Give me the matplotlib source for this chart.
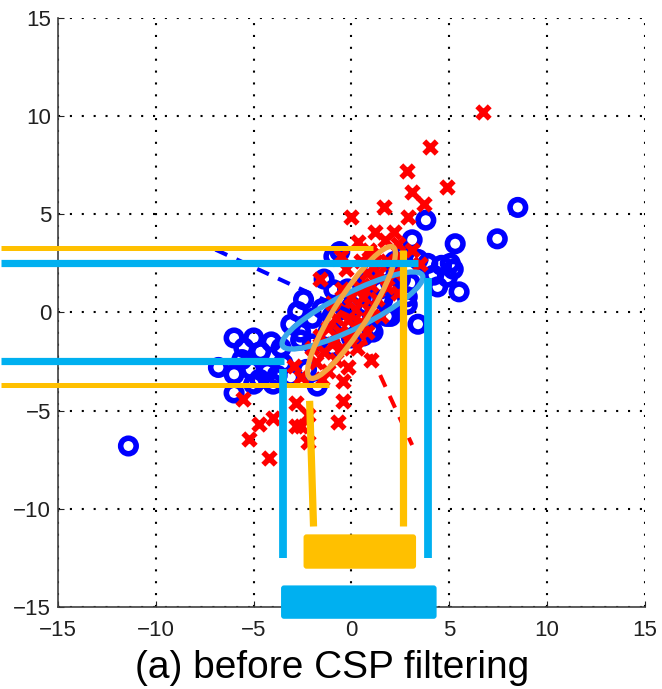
import matplotlib
matplotlib.use("Agg")
import matplotlib.pyplot as plt
from matplotlib.patches import Ellipse, FancyBboxPatch

# --- DATA ---
# class 1 : blue circles
c1_x = [-11.4, 8.5, 7.45, 5.3, 3.8, 5.5, 5.05, 5.2, 4.9, 4.4, 3.9, 3.4, 3.1, 2.85, 3.4, 2.85, -0.6, 4.2, 4.6,
        -6.0, -5.0, -4.1, -3.6, -6.8, -6.0, -5.15, -4.3, -6.0, -5.0, -4.0, -5.5, -4.65, -3.1, -1.75, -2.75,
        -3.1, -2.6, -2.45, -1.4, -0.9, -5.6, -3.5, -2.3, -3.8, -4.7,
        -2.0, -1.5, -1.0, -0.5, 0.0, 0.5, 1.0, 1.5, 2.0, 2.5, -1.2, -0.3, 0.3, 1.2, 2.2, 3.0, -2.0, -1.0,
        0.0, 1.0, 1.8, 0.8, -0.2, 1.5, 2.2, -2.6, 1.6, 2.0, 1.1, 0.6, -0.9, 2.6]
c1_y = [-6.8, 5.35, 3.75, 3.5, 4.7, 1.05, 2.5, 2.2, 1.8, 1.3, 2.5, 2.7, 3.7, 0.8, -0.6, 0.4, 3.1, 1.9, 2.4,
        -1.3, -1.3, -1.5, -1.8, -2.8, -3.15, -2.9, -3.0, -4.1, -3.65, -3.65, -1.8, -2.0, -3.3, -3.75, 0.05,
        -0.6, -1.0, 0.65, 1.7, 1.15, -2.4, -2.6, -2.9, -3.2, -3.4,
        -0.3, 0.2, -0.2, 0.5, 0.3, 0.8, 0.7, 1.2, 1.5, 1.7, -1.0, -0.6, -0.3, 0.1, 0.5, 1.5, -1.6, -1.8,
        -1.3, -0.8, -0.2, 1.7, 1.2, 2.0, 2.6, -1.4, 0.65, -0.2, -1.0, -1.2, 2.85, 2.9]

# class 2 : red crosses
c2_x = [6.7, 4.0, 2.85, 4.9, 3.1, 3.7, 1.65, -0.05, 2.9, 1.2, 2.15, 0.35, 3.5, 3.1, -0.55, -1.6, 1.7, 2.4, 0.9,
        -5.55, -4.75, -4.0, -5.25, -4.2, -2.85, -2.85, -2.2, -2.2, -0.45, -0.7, -0.45, -2.6, -2.95, -2.6,
        -1.2, -0.8,
        -1.8, -1.4, -1.0, -0.6, -0.2, 0.2, 0.6, 1.0, 1.4, 1.8, -1.2, -0.8, -0.4, 0.0, 0.4, 0.8, 1.2, -0.5,
        0.0, 0.5, 0.9, 1.3, 1.8, 2.2, -1.6, -2.0, 0.3, 0.8, 1.5, 2.4, -0.3, 0.5, 1.0, -1.0, -0.5, 2.5, -1.5,
        -0.2, 1.0]
c2_y = [10.2, 8.45, 7.2, 6.4, 6.15, 5.5, 5.35, 4.85, 4.85, 4.1, 4.1, 3.6, 2.45, 3.2, 2.85, 1.7, 3.7, 3.5, 3.2,
        -4.4, -5.7, -5.35, -6.45, -7.4, -4.6, -5.8, -5.2, -6.6, -4.5, -5.6, -3.5, -5.8, -2.75, -3.3,
        -3.0, -2.4,
        -2.5, -2.0, -1.6, -1.0, -0.4, 0.2, 0.8, 1.4, 2.0, 2.6, -0.8, -0.3, 0.2, 0.8, 1.3, 2.0, 2.6, -1.8,
        -1.2, -0.5, 0.1, 0.7, 1.3, 2.0, -1.2, -1.8, -1.8, -1.0, -0.2, 1.0, 2.2, 2.6, 3.0, 0.5, 1.2, 2.8, -3.4,
        -2.8, -2.4]

# dashed filter directions (start, end)
c1_dir_x = [-6.95, 0.0]
c1_dir_y = [3.2, 0.0]
c2_dir_x = [0.0, 3.1]
c2_dir_y = [0.0, -6.75]

# covariance ellipses: center, full width, full height, angle
ell_c1 = (0.05, 0.1, 8.0, 1.8, 26.6)
ell_c2 = (0.0, 0.0, 7.9, 1.7, 57.4)

# projection guide lines (x0, y0, x1, y1)
gold_lines = [(-17.9, 3.27, 1.12, 3.27), (-17.9, -3.67, -1.17, -3.67),
              (-2.14, -4.5, -1.94, -10.9), (2.65, 3.2, 2.65, -10.9)]
sky_lines = [(-17.9, 2.5, 3.4, 2.5), (-17.9, -2.45, -3.47, -2.45),
             (-3.52, -2.9, -3.52, -12.5), (3.9, 1.73, 3.9, -12.5)]
gold_lw = [3.6, 3.6, 5.2, 5.2]
sky_lw = [5.2, 5.2, 5.6, 5.6]

# range bars (x0, x1, y0, y1)
gold_bar = (-2.45, 3.3, -13.05, -11.3)
sky_bar = (-3.6, 4.35, -15.6, -13.9)

GOLD = '#FFC000'
SKY = '#00B0F0'

# --- Figure ---
plt.rcParams['font.family'] = ['Liberation Sans', 'DejaVu Sans']
fig = plt.figure(figsize=(6.62, 6.89), dpi=100)
ax = fig.add_axes([0.0876, 0.119, 0.8867, 0.855])

ax.scatter(c1_x, c1_y, s=125, facecolors='none', edgecolors='#0000FF', linewidths=4.0, zorder=3)
ax.scatter(c2_x, c2_y, s=80, marker='x', color='#FF0000', linewidths=4.0, zorder=4)

ax.plot(c1_dir_x, c1_dir_y, color='#0000FF', lw=2.9, dashes=(3.2, 2.5), zorder=5)
ax.plot(c2_dir_x, c2_dir_y, color='#FF0000', lw=2.9, dashes=(3.2, 2.5), zorder=5)

for (cx, cy, w, h, ang), col in [(ell_c1, '#3AA6EA'), (ell_c2, '#F5A540')]:
    ax.add_patch(Ellipse((cx, cy), w, h, angle=ang, fill=False, edgecolor=col, lw=3.8, zorder=6))

for (x0, y0, x1, y1), lw in zip(gold_lines, gold_lw):
    ax.plot([x0, x1], [y0, y1], color=GOLD, lw=lw, solid_capstyle='butt', clip_on=False, zorder=7)
for (x0, y0, x1, y1), lw in zip(sky_lines, sky_lw):
    ax.plot([x0, x1], [y0, y1], color=SKY, lw=lw, solid_capstyle='butt', clip_on=False, zorder=7)

for (x0, x1, y0, y1), col in [(gold_bar, GOLD), (sky_bar, SKY)]:
    ax.add_patch(FancyBboxPatch((x0, y0), x1 - x0, y1 - y0, boxstyle='round,pad=0,rounding_size=0.15',
                                facecolor=col, edgecolor='none', clip_on=False, zorder=8))

# --- Axes styling (matlab-ish) ---
ax.set_xlim(-15, 15)
ax.set_ylim(-15, 15)
ax.set_xticks(range(-15, 16, 5))
ax.set_yticks(range(-15, 16, 5))
ax.grid(True, color='black', linestyle=(0, (1, 4.7)), linewidth=1.5)
ax.set_axisbelow(True)
for side in ['top', 'right']:
    ax.spines[side].set_visible(False)
for side in ['left', 'bottom']:
    ax.spines[side].set_color('#404040')
    ax.spines[side].set_linewidth(1.2)
ax.tick_params(direction='in', length=4, labelsize=16, colors='#202020')
ax.tick_params(axis='x', pad=9)
ax.tick_params(axis='y', pad=5)

fig.text(0.5015, 0.016, '(a) before CSP filtering', ha='center', va='baseline', fontsize=28)

fig.savefig('out.png', dpi=100)
